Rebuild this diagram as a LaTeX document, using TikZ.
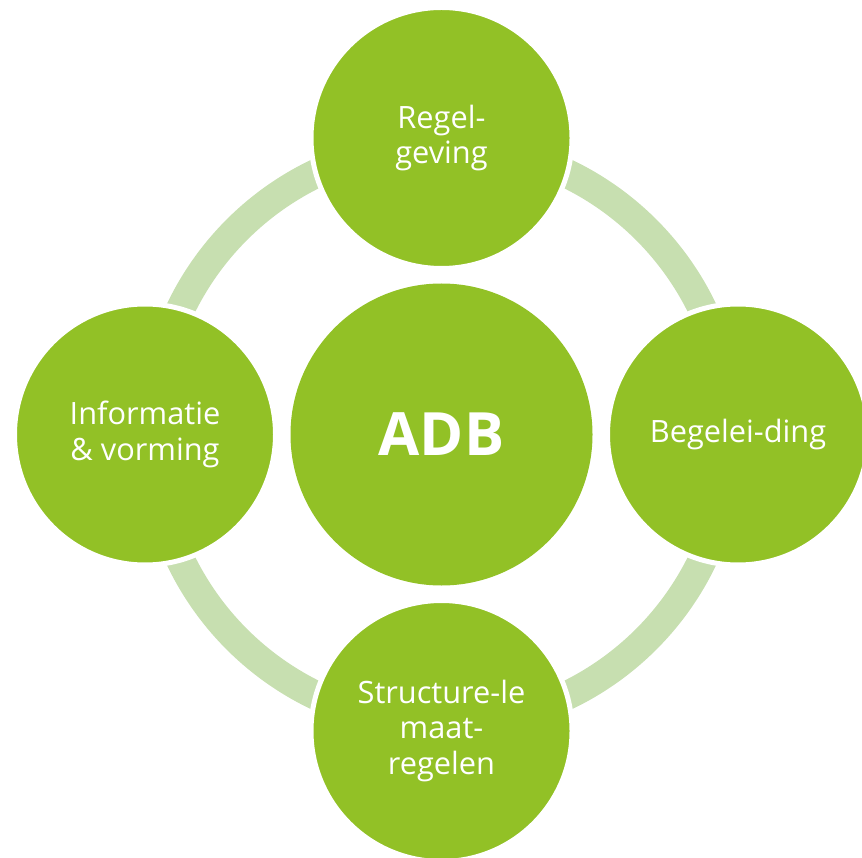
\documentclass[tikz,border=0pt]{standalone}
\usepackage{fontspec}
\setmainfont{Open Sans}
\usetikzlibrary{positioning}
\definecolor{adbgreen}{RGB}{146,193,38}
\definecolor{ringgreen}{RGB}{199,223,176}

\begin{document}
\begin{tikzpicture}[
      node distance=5.93cm,
      on grid,
      topic/.style={circle, fill=adbgreen, draw=white, line width=0.1cm, minimum size=5.22cm, inner sep=0pt, text=white, align=center, font=\fontsize{17.5}{20}\selectfont},
      core/.style={circle, fill=adbgreen, minimum size=6.04cm, inner sep=0pt, text=white, font=\fontsize{34}{40}\selectfont\bfseries},
      ring/.style={draw=ringgreen, line width=0.58cm}
      ]
      \clip (0,0) rectangle (17.24,17.14);
      % Ring behind the circles
      \coordinate (mid) at (8.83,8.45);
      \draw[ring] (mid) circle (5.79cm);

      % Nodes
      \node [core] (adb) at (mid) {ADB};
      \node [topic, above=of adb] (regel) {Regel-\\geving};
      \node [topic, right=of adb] (begel) {Begelei-ding};
      \node [topic, below=of adb] (struct) {Structure-le\\maat-\\regelen};
      \node [topic, left=of adb] (info) {Informatie\\\& vorming};
\end{tikzpicture}
\end{document}
